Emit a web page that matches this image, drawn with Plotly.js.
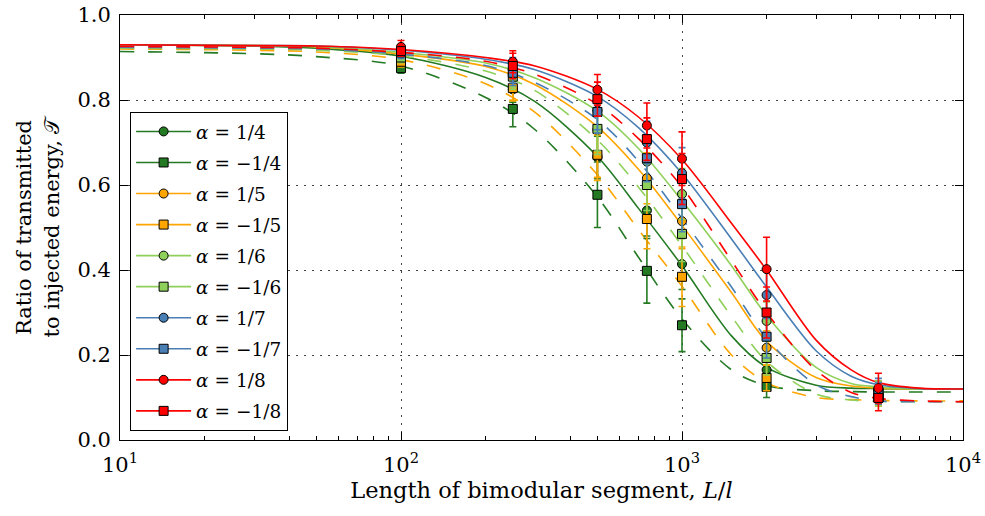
<!DOCTYPE html>
<html>
<head>
<meta charset="utf-8">
<script src="https://cdn.plot.ly/plotly-3.0.1.min.js"></script>
<style>html,body{margin:0;padding:0;background:#fff;}#chart{width:985px;height:516px;}</style>
</head>
<body>
<div id="chart"></div>
<script>
// ---- measured data points ----
const dataX = [100, 250, 500, 750, 1000, 2000, 5000];

const p4  = [0.885, 0.825, 0.665, 0.540, 0.414, 0.165, 0.118];
const m4  = [0.875, 0.779, 0.577, 0.398, 0.270, 0.125, 0.105];
const p5  = [0.895, 0.830, 0.668, 0.616, 0.515, 0.217, 0.118];
const m5  = [0.890, 0.828, 0.671, 0.520, 0.384, 0.146, 0.100];
const p6  = [0.905, 0.860, 0.730, 0.655, 0.579, 0.280, 0.118];
const m6  = [0.900, 0.855, 0.732, 0.600, 0.485, 0.193, 0.100];
const p7  = [0.910, 0.870, 0.775, 0.700, 0.628, 0.341, 0.120];
const m7  = [0.912, 0.864, 0.772, 0.663, 0.555, 0.243, 0.110];
const p8  = [0.925, 0.890, 0.824, 0.740, 0.662, 0.402, 0.122];
const m8  = [0.915, 0.880, 0.802, 0.708, 0.614, 0.300, 0.099];

const e_p4 = [0.012, 0.030, 0.050, 0.060, 0.060, 0.030, 0.020];
const e_m4 = [0.012, 0.042, 0.077, 0.076, 0.062, 0.025, 0.020];
const e_p5 = [0.012, 0.030, 0.050, 0.060, 0.065, 0.040, 0.020];
const e_m5 = [0.012, 0.030, 0.060, 0.070, 0.070, 0.030, 0.020];
const e_p6 = [0.012, 0.030, 0.050, 0.060, 0.060, 0.045, 0.020];
const e_m6 = [0.012, 0.030, 0.060, 0.060, 0.065, 0.040, 0.020];
const e_p7 = [0.012, 0.030, 0.045, 0.050, 0.060, 0.055, 0.025];
const e_m7 = [0.012, 0.030, 0.050, 0.055, 0.065, 0.050, 0.025];
const e_p8 = [0.015, 0.026, 0.036, 0.053, 0.063, 0.075, 0.035];
const e_m8 = [0.012, 0.030, 0.040, 0.050, 0.060, 0.060, 0.030];

// ---- fitted curves ----
const fitX = [10, 30, 50, 100, 200, 300, 500, 700, 1000, 1500, 2000, 3000, 4000, 5000, 7000, 10000];
const fit_p4 = [0.930, 0.927, 0.922, 0.903, 0.853, 0.796, 0.667, 0.545, 0.410, 0.245, 0.171, 0.129, 0.122, 0.121, 0.120, 0.120];
const fit_m4 = [0.914, 0.909, 0.902, 0.880, 0.806, 0.730, 0.572, 0.430, 0.285, 0.165, 0.128, 0.116, 0.114, 0.113, 0.113, 0.113];
const fit_p5 = [0.930, 0.928, 0.925, 0.908, 0.879, 0.836, 0.737, 0.637, 0.505, 0.347, 0.232, 0.147, 0.127, 0.122, 0.120, 0.120];
const fit_m5 = [0.920, 0.917, 0.913, 0.895, 0.838, 0.771, 0.624, 0.495, 0.362, 0.200, 0.135, 0.100, 0.095, 0.093, 0.092, 0.092];
const fit_p6 = [0.930, 0.928, 0.926, 0.912, 0.887, 0.852, 0.774, 0.686, 0.563, 0.410, 0.293, 0.171, 0.133, 0.125, 0.120, 0.120];
const fit_m6 = [0.922, 0.920, 0.917, 0.904, 0.868, 0.822, 0.706, 0.595, 0.457, 0.291, 0.185, 0.108, 0.094, 0.091, 0.090, 0.090];
const fit_p7 = [0.930, 0.928, 0.927, 0.917, 0.896, 0.871, 0.808, 0.735, 0.627, 0.473, 0.360, 0.210, 0.150, 0.130, 0.121, 0.120];
const fit_m7 = [0.924, 0.922, 0.920, 0.908, 0.881, 0.841, 0.754, 0.656, 0.521, 0.360, 0.239, 0.130, 0.102, 0.092, 0.090, 0.090];
const fit_p8 = [0.930, 0.928, 0.927, 0.919, 0.900, 0.880, 0.825, 0.760, 0.660, 0.510, 0.400, 0.235, 0.165, 0.135, 0.122, 0.120];
const fit_m8 = [0.926, 0.924, 0.922, 0.912, 0.891, 0.860, 0.790, 0.709, 0.595, 0.422, 0.300, 0.164, 0.112, 0.098, 0.092, 0.090];

const labels = ["<i>α</i> = 1/4", "<i>α</i> = −1/4", "<i>α</i> = 1/5", "<i>α</i> = −1/5",
                "<i>α</i> = 1/6", "<i>α</i> = −1/6", "<i>α</i> = 1/7", "<i>α</i> = −1/7",
                "<i>α</i> = 1/8", "<i>α</i> = −1/8"];
const colors = ["#237a23", "#237a23", "#ffa500", "#ffa500", "#8fd05a", "#8fd05a",
                "#4a7fb5", "#4a7fb5", "#ff0000", "#ff0000"];
const symbols = ["circle", "square", "circle", "square", "circle", "square",
                 "circle", "square", "circle", "square"];

const seriesY = [p4, m4, p5, m5, p6, m6, p7, m7, p8, m8];
const seriesE = [e_p4, e_m4, e_p5, e_m5, e_p6, e_m6, e_p7, e_m7, e_p8, e_m8];
const fitsY = [fit_p4, fit_m4, fit_p5, fit_m5, fit_p6, fit_m6, fit_p7, fit_m7, fit_p8, fit_m8];

const traces = [];
// fitted curves (behind)
fitsY.forEach((fy, i) => {
  traces.push({
    x: fitX, y: fy, type: 'scatter', mode: 'lines',
    line: {color: colors[i], width: 1.6, shape: 'spline', smoothing: 0.9,
           dash: (i % 2 === 1) ? '14px,14px' : 'solid'},
    showlegend: false, hoverinfo: 'skip'
  });
});
// data points with error bars
seriesY.forEach((sy, i) => {
  traces.push({
    x: dataX, y: sy, type: 'scatter', mode: 'markers',
    marker: {symbol: symbols[i], size: 9, color: colors[i], line: {color: '#000', width: 1}},
    error_y: {type: 'data', array: seriesE[i], visible: true, color: colors[i], thickness: 1.6, width: 3.5},
    showlegend: false
  });
});
// legend entries
seriesY.forEach((sy, i) => {
  traces.push({
    x: [null], y: [null], type: 'scatter', mode: 'lines+markers', name: labels[i],
    legendgroup: 'g' + i,
    line: {color: colors[i], width: 1.6},
    marker: {symbol: symbols[i], size: 9, color: colors[i], line: {color: '#000', width: 1}},
    showlegend: true
  });
});

const serif = "DejaVu Serif, Liberation Serif, serif";
const minorVals = [20,30,40,50,60,70,80,90,200,300,400,500,600,700,800,900,2000,3000,4000,5000,6000,7000,8000,9000];

const layout = {
  width: 985, height: 516,
  margin: {l: 120, r: 22, t: 15, b: 76},
  paper_bgcolor: '#fff', plot_bgcolor: '#fff',
  font: {family: serif, size: 20, color: '#000'},
  showlegend: true,
  legend: {
    x: 0.012, y: 0.772, xanchor: 'left', yanchor: 'top',
    bgcolor: '#fff', bordercolor: '#000', borderwidth: 1,
    font: {family: serif, size: 18.5, color: '#000'},
    tracegroupgap: 4, itemwidth: 55
  },
  xaxis: {
    type: 'log', range: [1, 4],
    tickvals: [10, 100, 1000, 10000],
    ticktext: ['10<sup>1</sup>', '10<sup>2</sup>', '10<sup>3</sup>', '10<sup>4</sup>'],
    ticks: 'inside', ticklen: 8, tickwidth: 1, tickcolor: '#000',
    ticklabelstandoff: 6,
    minor: {tickvals: minorVals, ticks: 'inside', ticklen: 4, tickcolor: '#000', showgrid: false},
    showline: true, linecolor: '#000', linewidth: 1, mirror: 'ticks',
    showgrid: true, gridcolor: '#444', gridwidth: 1, griddash: '2px,6px',
    zeroline: false,
    tickfont: {family: serif, size: 21},
    title: {text: 'Length of bimodular segment, <i>L</i>/<i>l</i>', font: {family: serif, size: 22.5}, standoff: 5}
  },
  yaxis: {
    range: [0, 1], dtick: 0.2, tickformat: '.1f',
    ticks: 'inside', ticklen: 8, tickwidth: 1, tickcolor: '#000',
    ticklabelstandoff: 4,
    showline: true, linecolor: '#000', linewidth: 1, mirror: 'ticks',
    showgrid: true, gridcolor: '#444', gridwidth: 1, griddash: '2px,6px',
    zeroline: false,
    tickfont: {family: serif, size: 21},
    title: {text: 'Ratio of transmitted<br>to injected energy, 𝒯', font: {family: serif, size: 21}, standoff: 12}
  }
};

Plotly.newPlot('chart', traces, layout, {staticPlot: true, displayModeBar: false});
</script>
</body>
</html>
